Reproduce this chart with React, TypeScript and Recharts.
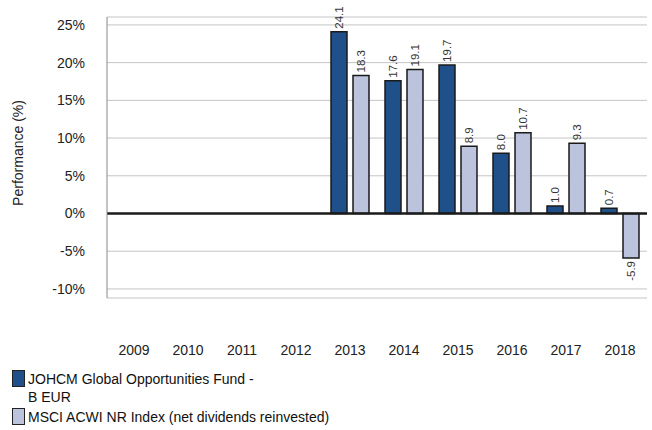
import React from 'react';
import { BarChart, Bar, XAxis, YAxis, CartesianGrid, ReferenceLine, Legend, LabelList, Label } from 'recharts';

const years = ['2009', '2010', '2011', '2012', '2013', '2014', '2015', '2016', '2017', '2018'];
const fundValues: (number | null)[] = [null, null, null, null, 24.1, 17.6, 19.7, 8.0, 1.0, 0.7];
const indexValues: (number | null)[] = [null, null, null, null, 18.3, 19.1, 8.9, 10.7, 9.3, -5.9];
const yTicks = [-10, -5, 0, 5, 10, 15, 20, 25];
const fundName = 'JOHCM Global Opportunities Fund - B EUR';
const indexName = 'MSCI ACWI NR Index (net dividends reinvested)';

const data = years.map((y, i) => ({ year: y, fund: fundValues[i], index: indexValues[i] }));

const FONT = '"Liberation Sans", Arial, sans-serif';
const DARK = '#20508a';
const LIGHT = '#bcc3dc';

const ValueLabel = (props: any) => {
  const { x, y, width, height, value } = props;
  if (value === null || value === undefined) return null;
  const cx = x + width / 2;
  const top = Math.min(y, y + height);
  const bottom = Math.max(y, y + height);
  if (value >= 0) {
    const ty = top - 3;
    return (
      <text x={cx} y={ty} transform={`rotate(-90 ${cx} ${ty})`} textAnchor="start" dominantBaseline="central"
        fontSize={11.5} fontFamily={FONT} fill="#333">{Number(value).toFixed(1)}</text>
    );
  }
  const ty = bottom + 3;
  return (
    <text x={cx} y={ty} transform={`rotate(-90 ${cx} ${ty})`} textAnchor="end" dominantBaseline="central"
      fontSize={11.5} fontFamily={FONT} fill="#333">{Number(value).toFixed(1)}</text>
  );
};

const LegendContent = () => {
  const sq = (c: string) => ({
    width: 13, height: 17, background: c, border: '1px solid #222', boxSizing: 'border-box' as const, flex: '0 0 auto', marginTop: 0,
  });
  const row = { display: 'flex', alignItems: 'flex-start', gap: 3 } as const;
  return (
    <div style={{ fontFamily: FONT, fontSize: 14, lineHeight: '18px', color: '#111', height: 54 }}>
      <div style={row}>
        <div style={sq(DARK)} />
        <div>JOHCM Global Opportunities Fund -<br />B EUR</div>
      </div>
      <div style={{ ...row, marginTop: 2 }}>
        <div style={sq(LIGHT)} />
        <div>{indexName}</div>
      </div>
    </div>
  );
};

export default function App() {
  return (
    <div style={{ position: 'absolute', left: 0, top: 0, background: '#fff' }}>
      <BarChart width={652} height={430} data={data} margin={{ top: 17, right: 5, left: 0, bottom: 48 }}
        barGap={6} barSize={16}>
        <CartesianGrid vertical={false} stroke="#c4c4c4" />
        <XAxis dataKey="year" height={30} axisLine={false} tickLine={false} tickSize={0} tickMargin={47}
          tick={{ fontSize: 14, fontFamily: FONT, fill: '#222' }} interval={0} />
        <YAxis width={107} domain={[-11.2, 26.05]} ticks={yTicks} allowDataOverflow
          tickFormatter={(v: number) => `${v}%`} axisLine={{ stroke: '#888' }} tickLine={false}
          tickSize={0} tickMargin={22} tick={{ fontSize: 14, fontFamily: FONT, fill: '#222' }}>
          <Label content={() => (
            <text x={23} y={153} transform="rotate(-90 23 153)" textAnchor="middle" fontSize={14}
              fontFamily={FONT} fill="#222">Performance (%)</text>
          )} />
        </YAxis>
        <ReferenceLine y={0} stroke="#1a1a1a" strokeWidth={2.5} />
        <Bar dataKey="fund" name={fundName} fill={DARK} stroke="#1a1a1a" strokeWidth={1.5} isAnimationActive={false}>
          <LabelList dataKey="fund" content={ValueLabel} />
        </Bar>
        <Bar dataKey="index" name={indexName} fill={LIGHT} stroke="#1a1a1a" strokeWidth={1.5} isAnimationActive={false}>
          <LabelList dataKey="index" content={ValueLabel} />
        </Bar>
        <Legend content={LegendContent} wrapperStyle={{ left: 12, top: 370, width: 400 }} />
      </BarChart>
    </div>
  );
}
